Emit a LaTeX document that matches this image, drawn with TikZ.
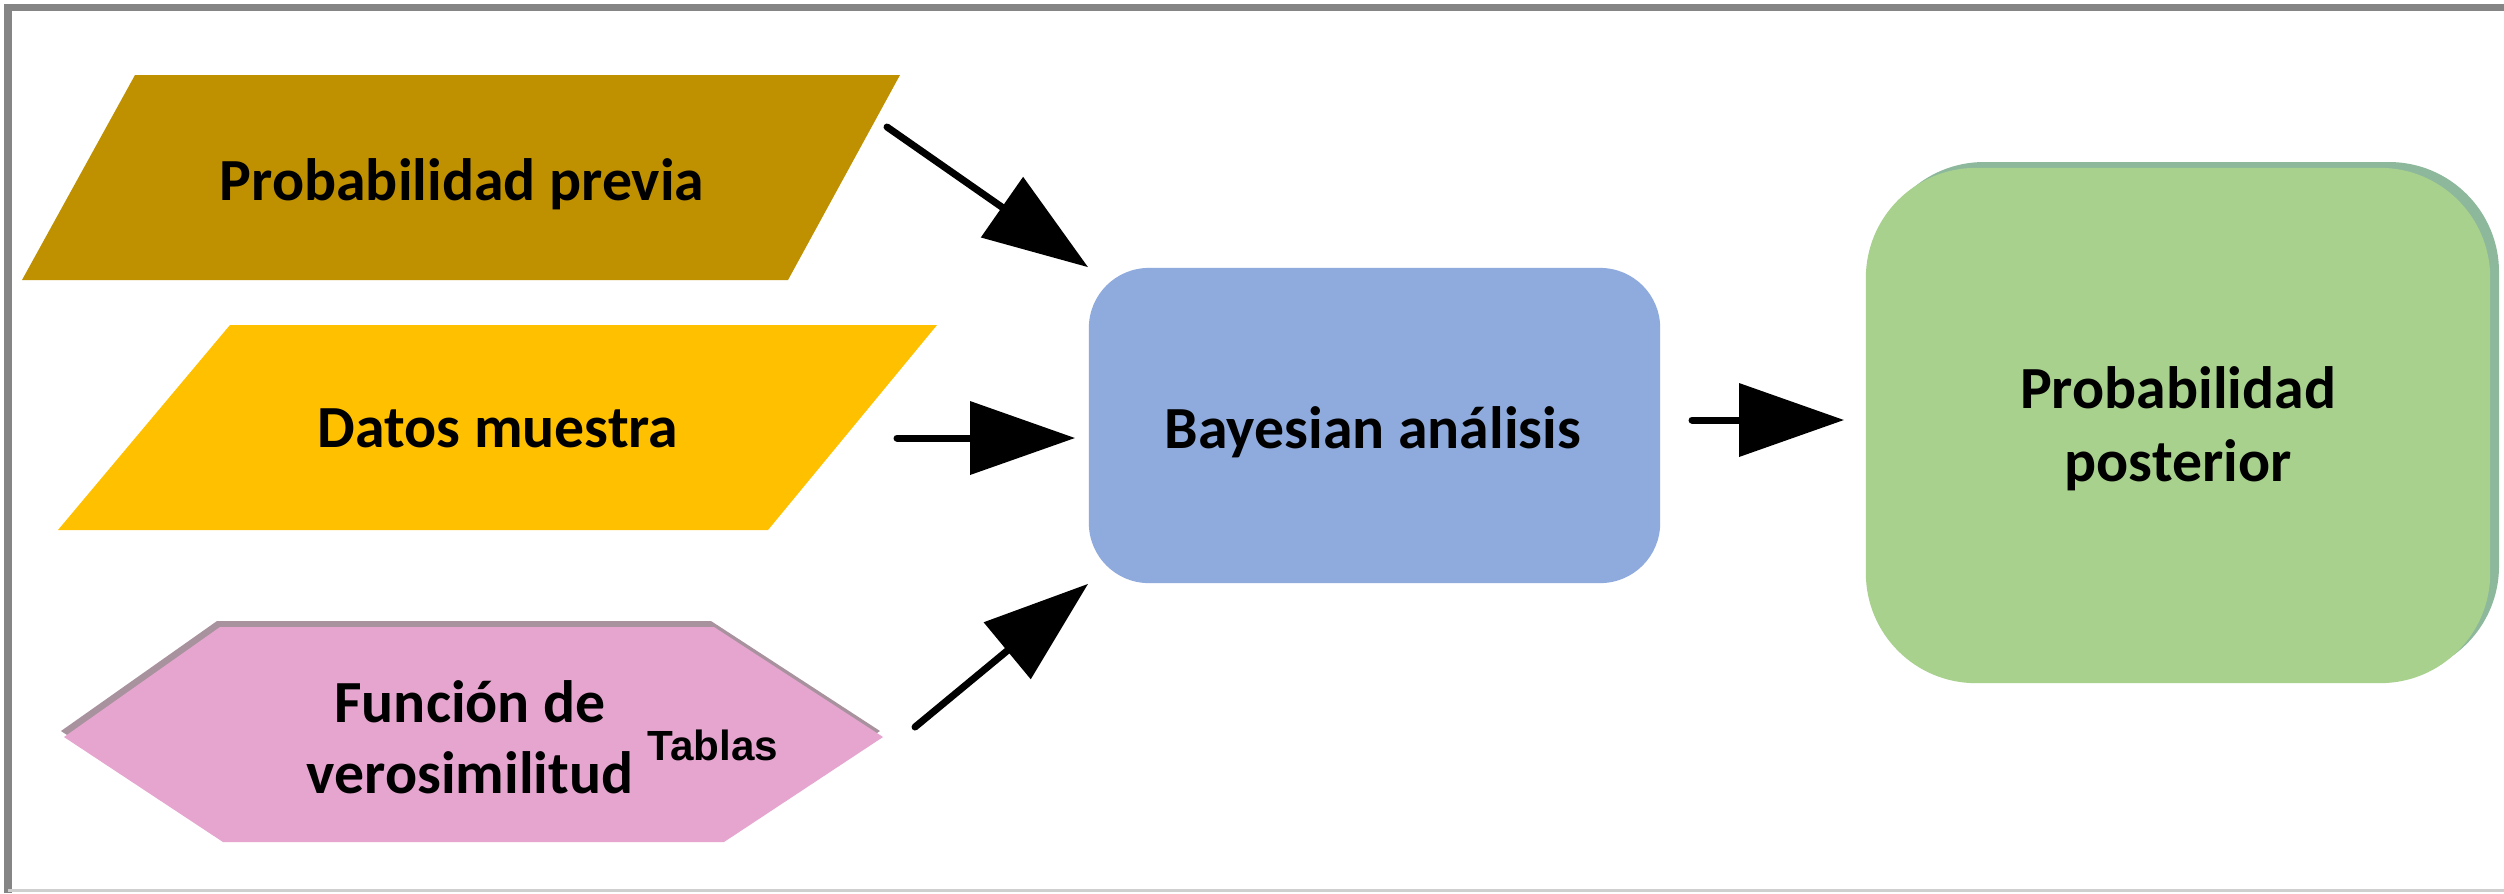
\documentclass[tikz,border=0pt]{standalone}
\usepackage{fontspec}
\newfontfamily\carl{Carlito}
\newfontfamily\tabfont{Liberation Sans}
\usetikzlibrary{arrows.meta}
\definecolor{goldA}{HTML}{BF9000}
\definecolor{goldB}{HTML}{FFC000}
\definecolor{pinkA}{HTML}{E6A5CF}
\definecolor{pinkShadow}{HTML}{A8929E}
\definecolor{blueA}{HTML}{8FAADC}
\definecolor{greenA}{HTML}{A9D18E}
\definecolor{greenShadow}{HTML}{8DB89C}
\definecolor{frameDark}{HTML}{858585}
\definecolor{frameLight}{HTML}{CFCFCF}
\newcommand\twoline[3]{\vtop{\baselineskip=#1\relax\halign{\hfil##\hfil\cr #2\cr #3\cr}}}
\tikzset{
  lbl/.style={font=\carl\bfseries\fontsize{17}{20}\selectfont, inner sep=0pt, anchor=base, text=black},
  arr/.style={line width=0.07cm, line cap=round, -{Triangle[length=1.05cm,width=0.72cm]}},
  boxshape/.style={inner sep=0pt, draw=none},
}
\begin{document}
\begin{tikzpicture}[x=0.01cm,y=-0.01cm]
\useasboundingbox (0,0) rectangle (2504,893);
\fill[white] (0,0) rectangle (2504,893);
% frame
\draw[frameDark, line width=0.07cm] (8,893) -- (8,7.5) -- (2504,7.5);
\draw[frameLight, line width=0.03cm] (8,890) -- (2504,890);
% prior
\fill[goldA] (135,75) -- (900,75) -- (788,280) -- (22,280) -- cycle;
\node[lbl] (p1) at (462,200) {Probabilidad previa};
% sample data
\fill[goldB] (230,325) -- (937,325) -- (768,530) -- (58,530) -- cycle;
\node[lbl] (p2) at (498,447) {Datos muestra};
% likelihood hexagon
\fill[pinkShadow, shift={(-3,-6)}] (220,627) -- (714,627) -- (883,737) -- (724,842) -- (223,842) -- (64,737) -- cycle;
\fill[pinkA] (220,627) -- (714,627) -- (883,737) -- (724,842) -- (223,842) -- (64,737) -- cycle;
\node[lbl] (hx) at (470,722) {\twoline{20.2pt}{Función de}{verosimilitud}};
\node[font=\tabfont\bfseries\fontsize{12}{14}\selectfont, inner sep=0pt, anchor=base west] (tb) at (647,760) {Tablas};
% bayesian analysis
\node[boxshape, fill=blueA, rounded corners=0.6cm, minimum width=5.71cm, minimum height=3.15cm] (ba) at (1374.5,425.5) {};
\node[lbl] (bat) at (1373,448) {Bayesian análisis};
% posterior
\fill[greenShadow, rounded corners=1.1cm] (1874,162) rectangle (2499,676);
\node[boxshape, fill=greenA, rounded corners=1.1cm, minimum width=6.24cm, minimum height=5.15cm] (pp) at (2178,425.5) {};
\node[lbl] (ppt) at (2178,408) {\twoline{21pt}{Probabilidad}{posterior}};
% connectors
\coordinate (a1s) at (887,127);
\coordinate (a2s) at (897,438);
\coordinate (a3s) at (915,727);
\coordinate (a4s) at (1692,420);
\draw[arr] (a1s) -- (ba.north west);
\draw[arr, shorten >=0.13cm] (a2s) -- (a2s -| ba.west);
\draw[arr] (a3s) -- (ba.south west);
\draw[arr, shorten >=0.21cm] (a4s) -- (a4s -| pp.west);
\end{tikzpicture}
\end{document}
